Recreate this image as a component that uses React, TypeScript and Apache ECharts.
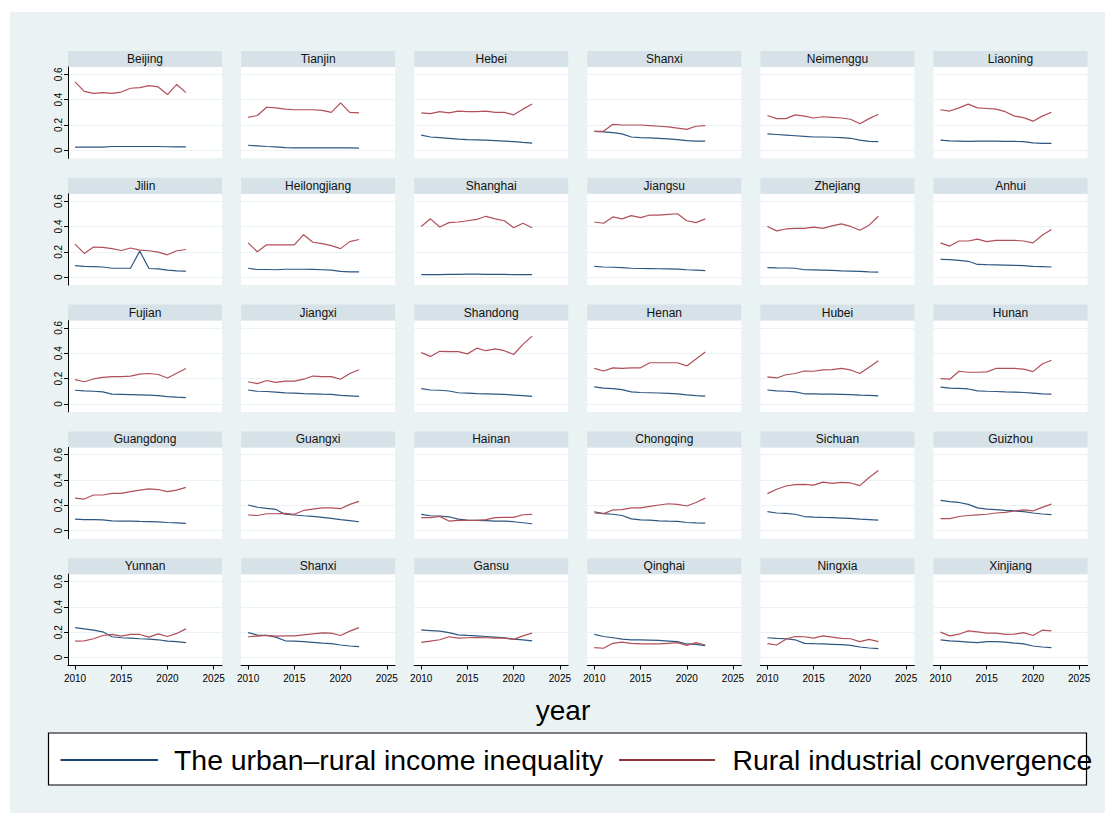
import React, { useEffect, useRef } from "react";
import * as echarts from "echarts";

// ---- data ----
const years = [2010, 2011, 2012, 2013, 2014, 2015, 2016, 2017, 2018, 2019, 2020, 2021, 2022];

const provinces = [
  "Beijing", "Tianjin", "Hebei", "Shanxi", "Neimenggu", "Liaoning",
  "Jilin", "Heilongjiang", "Shanghai", "Jiangsu", "Zhejiang", "Anhui",
  "Fujian", "Jiangxi", "Shandong", "Henan", "Hubei", "Hunan",
  "Guangdong", "Guangxi", "Hainan", "Chongqing", "Sichuan", "Guizhou",
  "Yunnan", "Shanxi", "Gansu", "Qinghai", "Ningxia", "Xinjiang",
];

const xTicks = [2010, 2015, 2020, 2025];
const yTicks = [0, 0.2, 0.4, 0.6];

const seriesNames = ["The urban\u2013rural income inequality", "Rural industrial convergence"];

// urban–rural income inequality, one row per province (2010–2022)
const incomeGap = [
  [0.025, 0.025, 0.025, 0.025, 0.03, 0.03, 0.03, 0.03, 0.03, 0.03, 0.028, 0.027, 0.027],
  [0.04, 0.035, 0.03, 0.027, 0.022, 0.02, 0.02, 0.02, 0.02, 0.02, 0.02, 0.019, 0.018],
  [0.12, 0.105, 0.1, 0.095, 0.088, 0.085, 0.083, 0.08, 0.077, 0.073, 0.068, 0.062, 0.057],
  [0.15, 0.145, 0.14, 0.13, 0.105, 0.1, 0.098, 0.095, 0.09, 0.085, 0.077, 0.072, 0.072],
  [0.13, 0.125, 0.12, 0.115, 0.11, 0.105, 0.105, 0.103, 0.1, 0.095, 0.08, 0.07, 0.068],
  [0.08, 0.075, 0.073, 0.07, 0.072, 0.072, 0.072, 0.071, 0.07, 0.068, 0.058, 0.055, 0.055],
  [0.09, 0.085, 0.083, 0.08, 0.07, 0.07, 0.07, 0.205, 0.068, 0.065, 0.055, 0.05, 0.048],
  [0.07, 0.06, 0.06, 0.058, 0.062, 0.062, 0.062, 0.061, 0.058, 0.055, 0.045, 0.042, 0.042],
  [0.02, 0.02, 0.02, 0.021, 0.022, 0.023, 0.023, 0.022, 0.022, 0.021, 0.02, 0.02, 0.02],
  [0.085, 0.08, 0.078, 0.075, 0.07, 0.068, 0.067, 0.066, 0.065, 0.063, 0.058, 0.055, 0.052],
  [0.075, 0.073, 0.072, 0.07, 0.058, 0.057, 0.055, 0.053, 0.05, 0.048, 0.045, 0.042, 0.04],
  [0.14, 0.138, 0.132, 0.125, 0.1, 0.098, 0.097, 0.095, 0.093, 0.09, 0.085, 0.083, 0.08],
  [0.108, 0.103, 0.1, 0.095, 0.077, 0.075, 0.073, 0.071, 0.069, 0.066, 0.058, 0.053, 0.05],
  [0.11, 0.1, 0.098, 0.093, 0.087, 0.085, 0.082, 0.08, 0.077, 0.075, 0.068, 0.064, 0.06],
  [0.12, 0.11, 0.108, 0.102, 0.088, 0.085, 0.082, 0.08, 0.078, 0.075, 0.07, 0.065, 0.06],
  [0.135, 0.125, 0.12, 0.113, 0.095, 0.09, 0.088, 0.086, 0.083, 0.08, 0.072, 0.066, 0.062],
  [0.11, 0.103, 0.1, 0.095, 0.08, 0.079, 0.078, 0.077, 0.076, 0.074, 0.07, 0.067, 0.064],
  [0.133, 0.125, 0.122, 0.118, 0.103, 0.1, 0.098, 0.095, 0.093, 0.09, 0.085, 0.08, 0.077],
  [0.092, 0.088, 0.087, 0.085, 0.078, 0.075, 0.075, 0.073, 0.072, 0.07, 0.065, 0.062, 0.058],
  [0.203, 0.185, 0.177, 0.168, 0.13, 0.124, 0.118, 0.113, 0.105, 0.097, 0.087, 0.079, 0.071],
  [0.129, 0.118, 0.116, 0.11, 0.092, 0.084, 0.082, 0.079, 0.076, 0.076, 0.071, 0.063, 0.055],
  [0.15, 0.135, 0.13, 0.12, 0.093, 0.086, 0.083, 0.078, 0.075, 0.073, 0.065, 0.062, 0.06],
  [0.15, 0.14, 0.137, 0.13, 0.112, 0.108, 0.105, 0.103, 0.1, 0.097, 0.092, 0.088, 0.083],
  [0.24, 0.23, 0.223, 0.208, 0.18, 0.17, 0.166, 0.16, 0.156, 0.15, 0.14, 0.132, 0.127],
  [0.236, 0.226, 0.216, 0.203, 0.164, 0.156, 0.153, 0.148, 0.145, 0.14, 0.13, 0.125, 0.117],
  [0.197, 0.177, 0.174, 0.161, 0.132, 0.13, 0.125, 0.12, 0.114, 0.109, 0.099, 0.091, 0.086],
  [0.218, 0.213, 0.208, 0.197, 0.179, 0.174, 0.171, 0.166, 0.161, 0.156, 0.145, 0.14, 0.132],
  [0.182, 0.166, 0.156, 0.145, 0.14, 0.14, 0.138, 0.135, 0.13, 0.125, 0.107, 0.104, 0.094],
  [0.156, 0.151, 0.148, 0.14, 0.112, 0.109, 0.107, 0.104, 0.101, 0.096, 0.083, 0.075, 0.07],
  [0.14, 0.132, 0.127, 0.122, 0.117, 0.125, 0.125, 0.122, 0.114, 0.107, 0.091, 0.083, 0.078],
];

// rural industrial convergence, one row per province (2010–2022)
const ruralConvergence = [
  [0.54, 0.465, 0.45, 0.455, 0.45, 0.46, 0.49, 0.495, 0.51, 0.5, 0.44, 0.52, 0.455],
  [0.26, 0.275, 0.34, 0.335, 0.325, 0.32, 0.32, 0.32, 0.315, 0.3, 0.375, 0.3, 0.295],
  [0.295, 0.29, 0.305, 0.295, 0.31, 0.305, 0.305, 0.31, 0.3, 0.3, 0.28, 0.325, 0.365],
  [0.15, 0.15, 0.205, 0.2, 0.2, 0.2, 0.195, 0.19, 0.185, 0.175, 0.165, 0.19, 0.195],
  [0.275, 0.25, 0.25, 0.28, 0.27, 0.255, 0.265, 0.26, 0.255, 0.245, 0.21, 0.25, 0.285],
  [0.32, 0.31, 0.335, 0.365, 0.335, 0.33, 0.325, 0.305, 0.27, 0.258, 0.23, 0.27, 0.3],
  [0.26, 0.187, 0.237, 0.235, 0.225, 0.21, 0.23, 0.213, 0.208, 0.197, 0.176, 0.208, 0.218],
  [0.27, 0.2, 0.255, 0.255, 0.255, 0.255, 0.335, 0.275, 0.265, 0.248, 0.225, 0.28, 0.297],
  [0.4, 0.46, 0.395, 0.43, 0.435, 0.445, 0.455, 0.48, 0.46, 0.445, 0.39, 0.425, 0.39],
  [0.435, 0.425, 0.475, 0.46, 0.485, 0.47, 0.49, 0.49, 0.495, 0.5, 0.445, 0.43, 0.46],
  [0.4, 0.365, 0.38, 0.385, 0.385, 0.395, 0.385, 0.405, 0.42, 0.4, 0.37, 0.41, 0.48],
  [0.27, 0.245, 0.285, 0.285, 0.3, 0.28, 0.29, 0.29, 0.29, 0.285, 0.27, 0.33, 0.375],
  [0.192, 0.175, 0.197, 0.21, 0.216, 0.216, 0.22, 0.235, 0.24, 0.232, 0.205, 0.242, 0.28],
  [0.175, 0.16, 0.185, 0.17, 0.18, 0.18, 0.195, 0.22, 0.216, 0.216, 0.195, 0.24, 0.27],
  [0.405, 0.375, 0.415, 0.413, 0.413, 0.395, 0.44, 0.42, 0.435, 0.42, 0.39, 0.47, 0.535],
  [0.28, 0.26, 0.285, 0.28, 0.285, 0.285, 0.325, 0.325, 0.325, 0.325, 0.3, 0.355, 0.41],
  [0.213, 0.205, 0.23, 0.24, 0.26, 0.258, 0.268, 0.27, 0.28, 0.268, 0.24, 0.29, 0.34],
  [0.2, 0.195, 0.258, 0.25, 0.25, 0.253, 0.28, 0.28, 0.28, 0.275, 0.255, 0.315, 0.345],
  [0.258, 0.25, 0.282, 0.282, 0.295, 0.295, 0.308, 0.32, 0.33, 0.325, 0.308, 0.32, 0.342],
  [0.124, 0.12, 0.134, 0.134, 0.137, 0.13, 0.16, 0.17, 0.18, 0.18, 0.174, 0.208, 0.232],
  [0.103, 0.103, 0.113, 0.076, 0.082, 0.082, 0.082, 0.087, 0.103, 0.105, 0.105, 0.126, 0.129],
  [0.14, 0.135, 0.164, 0.166, 0.18, 0.18, 0.192, 0.203, 0.213, 0.208, 0.195, 0.223, 0.257],
  [0.293, 0.327, 0.353, 0.364, 0.366, 0.36, 0.384, 0.374, 0.382, 0.377, 0.356, 0.42, 0.475],
  [0.096, 0.096, 0.112, 0.12, 0.125, 0.13, 0.14, 0.145, 0.156, 0.164, 0.156, 0.184, 0.21],
  [0.13, 0.132, 0.148, 0.174, 0.182, 0.169, 0.182, 0.182, 0.161, 0.187, 0.166, 0.19, 0.226],
  [0.164, 0.169, 0.174, 0.169, 0.171, 0.171, 0.179, 0.187, 0.195, 0.192, 0.174, 0.208, 0.236],
  [0.12, 0.13, 0.14, 0.164, 0.153, 0.156, 0.158, 0.156, 0.153, 0.153, 0.143, 0.171, 0.192],
  [0.078, 0.073, 0.112, 0.122, 0.112, 0.107, 0.107, 0.107, 0.112, 0.117, 0.096, 0.117, 0.099],
  [0.109, 0.099, 0.145, 0.166, 0.164, 0.153, 0.171, 0.161, 0.151, 0.148, 0.125, 0.143, 0.125],
  [0.2, 0.171, 0.184, 0.21, 0.203, 0.192, 0.192, 0.182, 0.184, 0.197, 0.174, 0.216, 0.21],
];

// ---- layout / style ----
const FONT = "'Liberation Sans', Arial, sans-serif";
const NAVY = "#1a476f";
const MAROON = "#90353b";
const NAVY_THIN = "#2d5681";
const MAROON_THIN = "#b14f58";
const COLS = 6;
const ROWS = 5;
const LEFT0 = 68;
const COL_STEP = 173.1;
const PANEL_W = 154;
const BAND_TOP0 = 51;
const BAND_H = 16;
const PLOT_TOP0 = 67;
const ROW_STEP = 126.8;
const PLOT_H = 91.3;
const X_MIN = 2009.24;
const X_MAX = 2025.9;
const Y_MIN = -0.063;
const Y_MAX = 0.6576;

function buildOption() {
  const grid: any[] = [];
  const xAxis: any[] = [];
  const yAxis: any[] = [];
  const series: any[] = [];
  const graphic: any[] = [
    {
      type: "rect",
      z: -100,
      shape: { x: 10, y: 12, width: 1095, height: 801 },
      style: { fill: "#eaf2f3" },
    },
  ];

  provinces.forEach((name, i) => {
    const r = Math.floor(i / COLS);
    const c = i % COLS;
    const left = LEFT0 + c * COL_STEP;
    const top = PLOT_TOP0 + r * ROW_STEP;
    const bottomRow = r === ROWS - 1;
    const firstCol = c === 0;

    grid.push({
      left,
      top,
      width: PANEL_W,
      height: PLOT_H,
      show: true,
      backgroundColor: "#ffffff",
      borderWidth: 0,
    });

    xAxis.push({
      type: "value",
      gridIndex: i,
      min: X_MIN,
      max: X_MAX,
      axisLine: { show: bottomRow, onZero: false, lineStyle: { color: "#000", width: 1 } },
      axisTick: { show: bottomRow, length: 4, customValues: xTicks, lineStyle: { color: "#000" } },
      axisLabel: {
        show: bottomRow,
        customValues: xTicks,
        formatter: (v: number) => String(v),
        fontSize: 10,
        fontFamily: FONT,
        color: "#000",
        margin: 8,
      },
      splitLine: { show: false },
    });

    yAxis.push({
      type: "value",
      gridIndex: i,
      min: Y_MIN,
      max: Y_MAX,
      axisLine: { show: firstCol, onZero: false, lineStyle: { color: "#000", width: 1 } },
      axisTick: { show: firstCol, length: 4, customValues: yTicks, lineStyle: { color: "#000" } },
      axisLabel: {
        show: firstCol,
        customValues: yTicks,
        rotate: 90,
        formatter: (v: number) => String(v),
        fontSize: 10,
        fontFamily: FONT,
        color: "#000",
        margin: 5,
      },
      splitLine: { show: true, lineStyle: { color: "#eaf2f3", width: 1 } },
    });

    series.push({
      type: "line",
      name: seriesNames[0],
      xAxisIndex: i,
      yAxisIndex: i,
      showSymbol: false,
      symbol: "none",
      silent: true,
      lineStyle: { color: NAVY_THIN, width: 1.2 },
      data: years.map((y, k) => [y, incomeGap[i][k]]),
    });
    series.push({
      type: "line",
      name: seriesNames[1],
      xAxisIndex: i,
      yAxisIndex: i,
      showSymbol: false,
      symbol: "none",
      silent: true,
      lineStyle: { color: MAROON_THIN, width: 1.2 },
      data: years.map((y, k) => [y, ruralConvergence[i][k]]),
    });

    const bandTop = BAND_TOP0 + r * ROW_STEP;
    graphic.push({
      type: "rect",
      shape: { x: left, y: bandTop, width: PANEL_W, height: BAND_H },
      style: { fill: "#d6e2e7" },
    });
    graphic.push({
      type: "text",
      x: left + PANEL_W / 2,
      y: bandTop + BAND_H / 2,
      style: {
        text: name,
        fill: "#111",
        fontSize: 12,
        fontFamily: FONT,
        align: "center",
        verticalAlign: "middle",
      },
    });
  });

  // axis title
  graphic.push({
    type: "text",
    x: 563,
    y: 710,
    style: { text: "year", fill: "#000", fontSize: 28, fontFamily: FONT, align: "center", verticalAlign: "middle" },
  });

  // legend box
  graphic.push({
    type: "rect",
    shape: { x: 48.5, y: 733, width: 1038, height: 52 },
    style: { fill: "#ffffff", stroke: "#000", lineWidth: 1.2 },
  });
  graphic.push({
    type: "line",
    shape: { x1: 60.5, y1: 760, x2: 158, y2: 760 },
    style: { stroke: NAVY, lineWidth: 2.2 },
  });
  graphic.push({
    type: "text",
    x: 174,
    y: 760,
    style: { text: seriesNames[0], fill: "#000", fontSize: 28.4, fontFamily: FONT, align: "left", verticalAlign: "middle" },
  });
  graphic.push({
    type: "line",
    shape: { x1: 619, y1: 760, x2: 715, y2: 760 },
    style: { stroke: MAROON, lineWidth: 2.2 },
  });
  graphic.push({
    type: "text",
    x: 732.5,
    y: 760,
    style: { text: seriesNames[1], fill: "#000", fontSize: 28.4, fontFamily: FONT, align: "left", verticalAlign: "middle" },
  });

  return {
    animation: false,
    backgroundColor: "#ffffff",
    textStyle: { fontFamily: FONT },
    grid,
    xAxis,
    yAxis,
    series,
    graphic,
  };
}

export default function App() {
  const ref = useRef<HTMLDivElement>(null);

  useEffect(() => {
    if (!ref.current) return;
    const chart = echarts.init(ref.current, undefined, { renderer: "svg" });
    chart.setOption(buildOption());
    return () => chart.dispose();
  }, []);

  return (
    <div
      ref={ref}
      style={{ position: "fixed", left: 0, top: 0, width: 1115, height: 814 }}
    />
  );
}
